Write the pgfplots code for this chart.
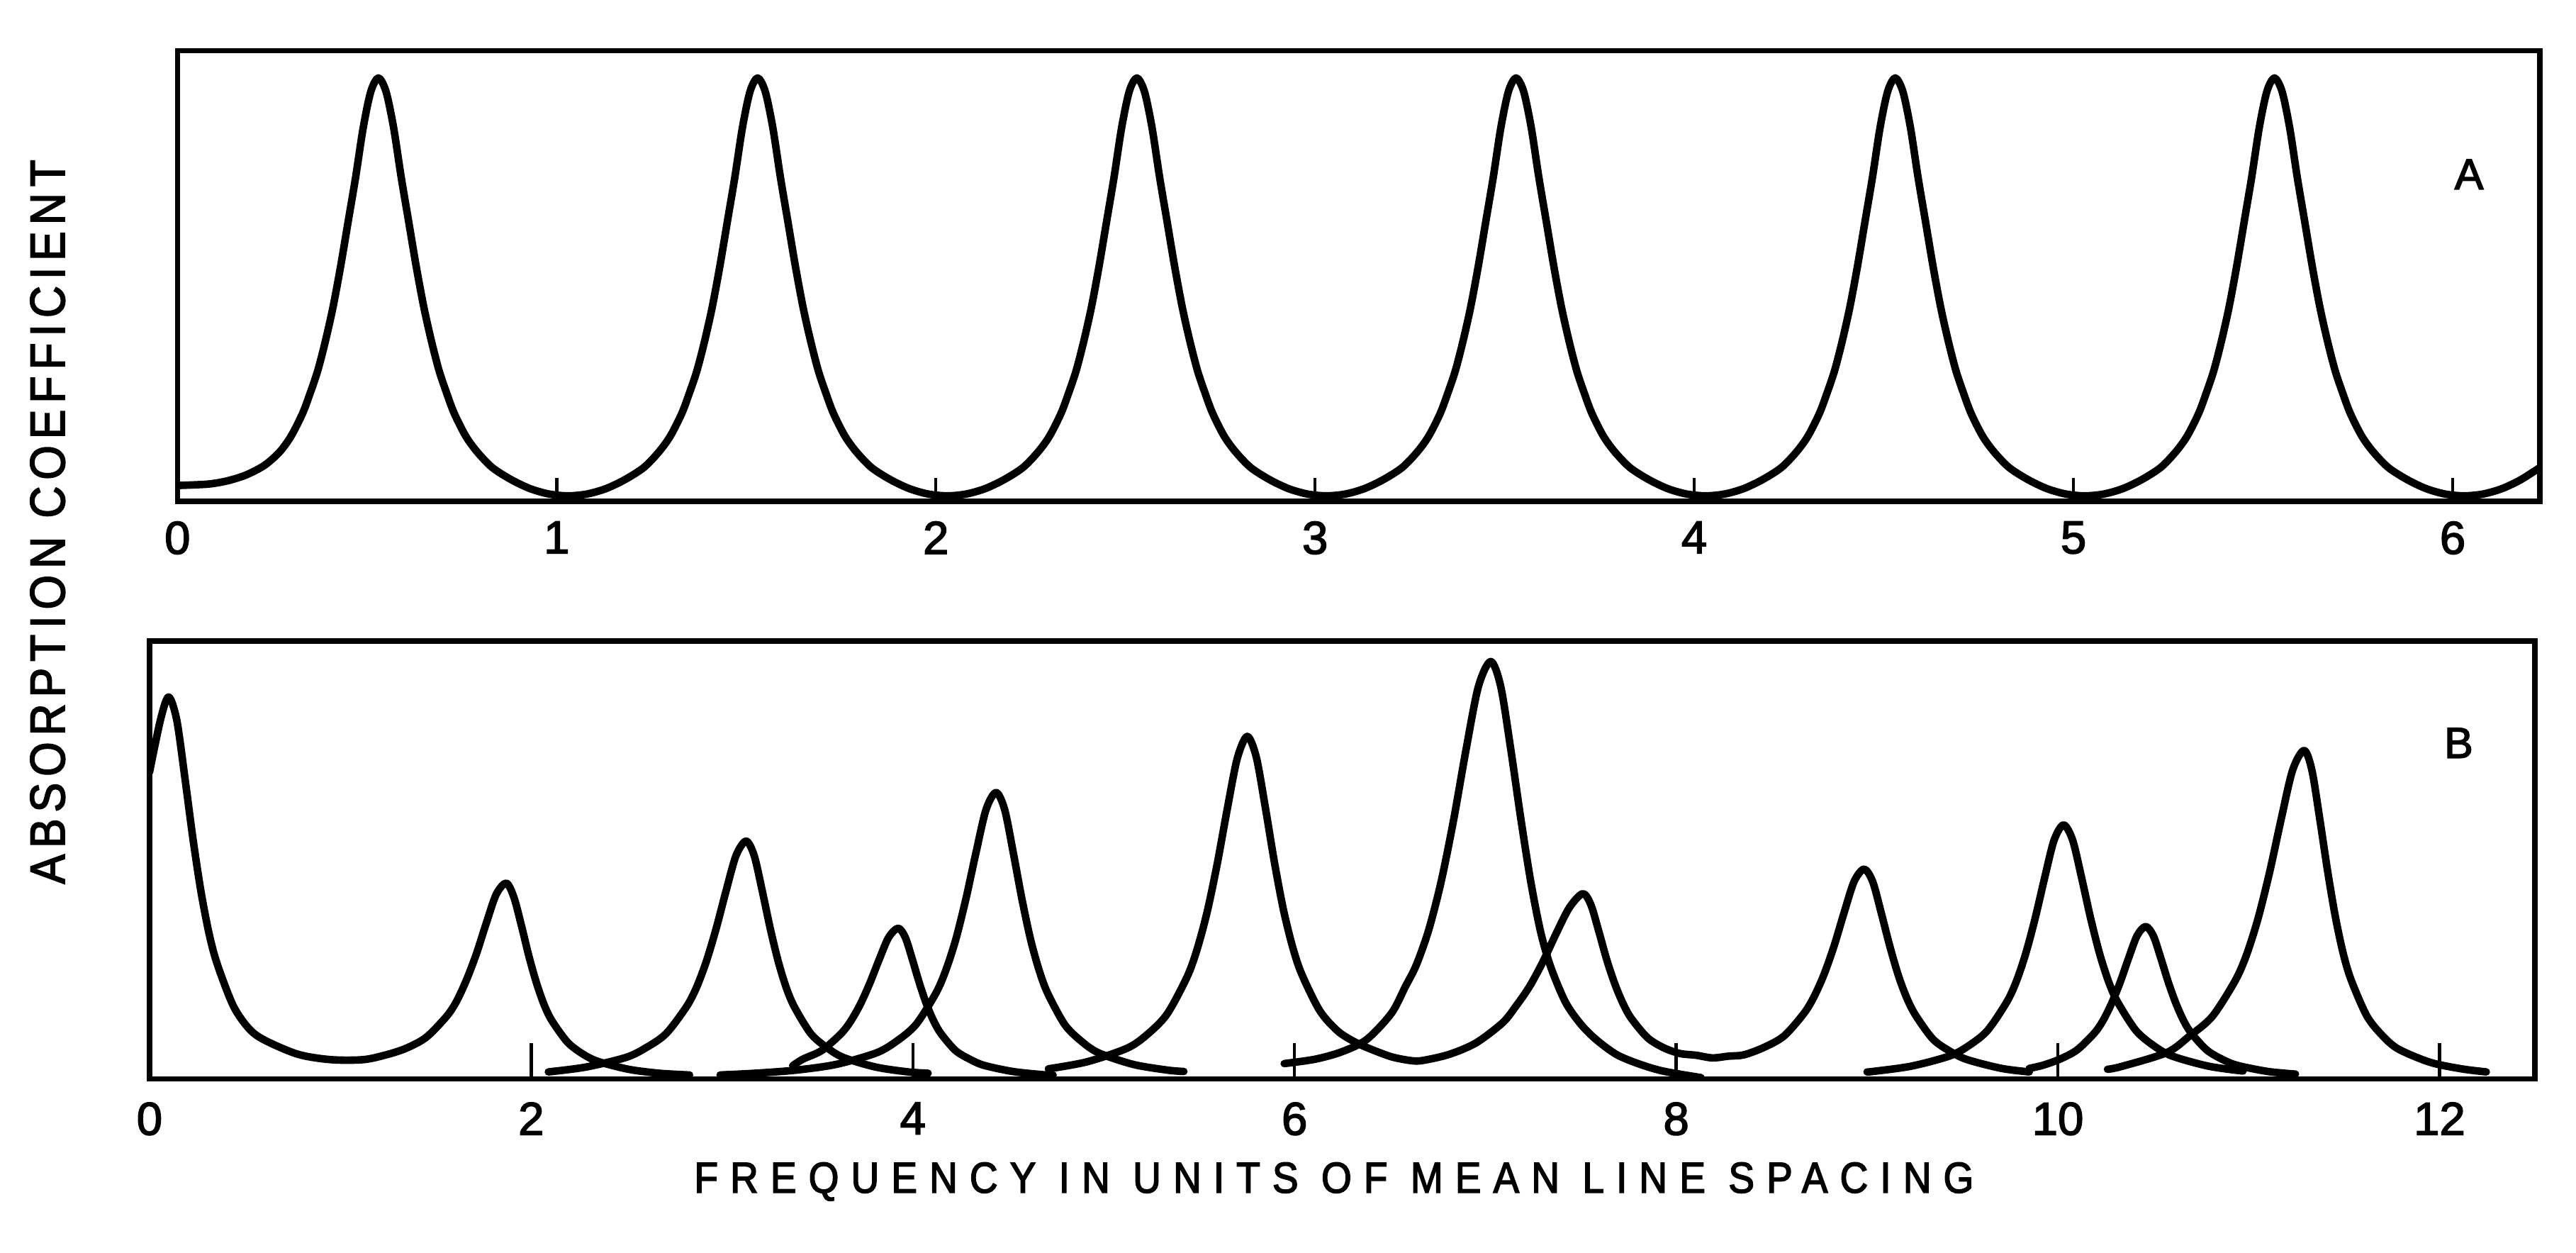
\documentclass[border=0pt]{standalone}
\usepackage{fontspec}
\setmainfont{Liberation Sans}
\newfontfamily\xlabfont[LetterSpace=28, FakeStretch=0.9, FakeBold=2.5]{Liberation Sans}
\newfontfamily\ylabfont[LetterSpace=13, FakeStretch=0.9, FakeBold=2.5]{Liberation Sans}
\newfontfamily\tickfont[FakeBold=2.5]{Liberation Sans}
\usepackage{pgfplots}
\pgfplotsset{compat=1.18}

\pgfplotsset{
  panel/.style={
    scale only axis,
    ymin=0, ymax=1,
    ytick=\empty,
    axis line style={line width=1.8pt},
    tick align=inside,
    xtick pos=left,
    major tick style={line width=1.1pt, black},
    xticklabel style={font=\tickfont\fontsize{16}{17}\selectfont, anchor=north, inner sep=0pt},
    /pgf/number format/assume math mode=true,
  },
  line/.style={black, line width=2.6pt, smooth, tension=0.5, no markers,
    line cap=round, line join=round},
}

\begin{document}
\begin{tikzpicture}
\path (0,0) rectangle (313.6mm,152.4mm);

% A: regular (Elsasser) array of equally spaced, equally strong lines
\begin{axis}[panel, at={(21.6mm,91.4mm)}, anchor=south west,
  width=287.6mm, height=54.8mm,
  xmin=0, xmax=6.23,
  xtick={0,1,2,3,4,5,6}, xticklabels={0,1,2,3,4,5,6},
  major tick length=2.8mm,
  xticklabel style={yshift=-2.4mm}]
\addplot[line] coordinates {
(0.00,0.035)(0.08,0.038)(0.13,0.045)(0.18,0.058)(0.23,0.08)(0.27,0.11)(0.30,0.145)(0.33,0.195)(0.35,0.24)(0.37,0.29)(0.39,0.355)(0.41,0.43)(0.43,0.52)(0.45,0.62)(0.47,0.72)(0.49,0.83)(0.51,0.91)(0.53,0.94)
(0.55,0.91)(0.57,0.83)(0.59,0.72)(0.61,0.62)(0.63,0.52)(0.65,0.43)(0.67,0.355)(0.69,0.29)(0.71,0.24)(0.73,0.195)(0.76,0.145)(0.79,0.11)(0.83,0.075)(0.88,0.048)(0.93,0.028)(0.98,0.016)(1.03,0.012)
(1.08,0.016)(1.13,0.028)(1.18,0.048)(1.23,0.075)(1.27,0.11)(1.30,0.145)(1.33,0.195)(1.35,0.24)(1.37,0.29)(1.39,0.355)(1.41,0.43)(1.43,0.52)(1.45,0.62)(1.47,0.72)(1.49,0.83)(1.51,0.91)(1.53,0.94)
(1.55,0.91)(1.57,0.83)(1.59,0.72)(1.61,0.62)(1.63,0.52)(1.65,0.43)(1.67,0.355)(1.69,0.29)(1.71,0.24)(1.73,0.195)(1.76,0.145)(1.79,0.11)(1.83,0.075)(1.88,0.048)(1.93,0.028)(1.98,0.016)(2.03,0.012)
(2.08,0.016)(2.13,0.028)(2.18,0.048)(2.23,0.075)(2.27,0.11)(2.30,0.145)(2.33,0.195)(2.35,0.24)(2.37,0.29)(2.39,0.355)(2.41,0.43)(2.43,0.52)(2.45,0.62)(2.47,0.72)(2.49,0.83)(2.51,0.91)(2.53,0.94)
(2.55,0.91)(2.57,0.83)(2.59,0.72)(2.61,0.62)(2.63,0.52)(2.65,0.43)(2.67,0.355)(2.69,0.29)(2.71,0.24)(2.73,0.195)(2.76,0.145)(2.79,0.11)(2.83,0.075)(2.88,0.048)(2.93,0.028)(2.98,0.016)(3.03,0.012)
(3.08,0.016)(3.13,0.028)(3.18,0.048)(3.23,0.075)(3.27,0.11)(3.30,0.145)(3.33,0.195)(3.35,0.24)(3.37,0.29)(3.39,0.355)(3.41,0.43)(3.43,0.52)(3.45,0.62)(3.47,0.72)(3.49,0.83)(3.51,0.91)(3.53,0.94)
(3.55,0.91)(3.57,0.83)(3.59,0.72)(3.61,0.62)(3.63,0.52)(3.65,0.43)(3.67,0.355)(3.69,0.29)(3.71,0.24)(3.73,0.195)(3.76,0.145)(3.79,0.11)(3.83,0.075)(3.88,0.048)(3.93,0.028)(3.98,0.016)(4.03,0.012)
(4.08,0.016)(4.13,0.028)(4.18,0.048)(4.23,0.075)(4.27,0.11)(4.30,0.145)(4.33,0.195)(4.35,0.24)(4.37,0.29)(4.39,0.355)(4.41,0.43)(4.43,0.52)(4.45,0.62)(4.47,0.72)(4.49,0.83)(4.51,0.91)(4.53,0.94)
(4.55,0.91)(4.57,0.83)(4.59,0.72)(4.61,0.62)(4.63,0.52)(4.65,0.43)(4.67,0.355)(4.69,0.29)(4.71,0.24)(4.73,0.195)(4.76,0.145)(4.79,0.11)(4.83,0.075)(4.88,0.048)(4.93,0.028)(4.98,0.016)(5.03,0.012)
(5.08,0.016)(5.13,0.028)(5.18,0.048)(5.23,0.075)(5.27,0.11)(5.30,0.145)(5.33,0.195)(5.35,0.24)(5.37,0.29)(5.39,0.355)(5.41,0.43)(5.43,0.52)(5.45,0.62)(5.47,0.72)(5.49,0.83)(5.51,0.91)(5.53,0.94)
(5.55,0.91)(5.57,0.83)(5.59,0.72)(5.61,0.62)(5.63,0.52)(5.65,0.43)(5.67,0.355)(5.69,0.29)(5.71,0.24)(5.73,0.195)(5.76,0.145)(5.79,0.11)(5.83,0.075)(5.88,0.048)(5.93,0.028)(5.98,0.016)(6.03,0.012)
(6.08,0.016)(6.13,0.028)(6.18,0.048)(6.23,0.075)
};
\node[font=\tickfont\fontsize{15}{16}\selectfont] at (rel axis cs:0.970,0.726) {A};
\end{axis}

% B: random array, lines of unequal strength at irregular positions
\begin{axis}[panel, at={(18.2mm,21.1mm)}, anchor=south west,
  width=290.4mm, height=53.3mm,
  xmin=0, xmax=12.5,
  xtick={0,2,4,6,8,10,12}, xticklabels={0,2,4,6,8,10,12},
  major tick length=4.4mm,
  xticklabel style={yshift=-2.8mm}]
% lines at 0.10 and 1.87 (drawn as one trace)
\addplot[line] coordinates {
(0.00,0.70)(0.0575,0.82)(0.10,0.872)(0.1425,0.82)(0.185,0.689)(0.2275,0.549)(0.27,0.427)(0.3125,0.331)(0.355,0.262)(0.44,0.166)(0.525,0.113)(0.61,0.087)(0.78,0.056)(0.95,0.044)(1.12,0.044)(1.24,0.055)(1.345,0.07)(1.45,0.095)(1.555,0.142)(1.6075,0.176)(1.66,0.225)(1.7125,0.285)(1.765,0.356)(1.8175,0.422)(1.87,0.447)(1.91,0.414)(1.95,0.348)(1.99,0.277)(2.03,0.216)(2.07,0.167)(2.11,0.132)(2.19,0.084)(2.27,0.057)(2.35,0.040)(2.51,0.022)(2.67,0.013)(2.83,0.009)
};
% line at 3.13
\addplot[line] coordinates {
(2.09,0.016)(2.286,0.027)(2.496,0.049)(2.601,0.071)(2.706,0.103)(2.811,0.163)(2.8635,0.206)(2.916,0.266)(2.9685,0.342)(3.021,0.429)(3.0735,0.510)(3.126,0.543)(3.1685,0.510)(3.211,0.429)(3.2535,0.342)(3.296,0.266)(3.3385,0.206)(3.381,0.163)(3.466,0.103)(3.551,0.071)(3.636,0.049)(3.806,0.027)(3.976,0.016)(4.08,0.013)
};
% line at 3.92
\addplot[line] coordinates {
(3.37,0.030)(3.423,0.045)(3.523,0.065)(3.623,0.103)(3.673,0.131)(3.723,0.169)(3.773,0.217)(3.823,0.272)(3.873,0.323)(3.923,0.344)(3.9605,0.323)(3.998,0.272)(4.0355,0.217)(4.073,0.169)(4.1105,0.131)(4.148,0.103)(4.223,0.065)(4.298,0.045)(4.373,0.031)(4.523,0.017)(4.673,0.010)(4.735,0.009)
};
% line at 4.44
\addplot[line] coordinates {
(2.99,0.009)(3.176,0.013)(3.386,0.020)(3.596,0.033)(3.806,0.059)(3.911,0.085)(4.016,0.124)(4.121,0.196)(4.1735,0.249)(4.226,0.320)(4.2785,0.412)(4.331,0.517)(4.3835,0.615)(4.436,0.654)(4.481,0.615)(4.526,0.517)(4.571,0.412)(4.616,0.320)(4.661,0.249)(4.706,0.196)(4.796,0.124)(4.886,0.085)(4.976,0.059)(5.156,0.033)(5.336,0.020)(5.42,0.017)
};
% lines at 5.75, 7.51 and 8.99 (drawn as one trace)
\addplot[line] coordinates {
(4.71,0.023)(4.912,0.039)(5.122,0.070)(5.227,0.101)(5.332,0.148)(5.437,0.233)(5.4895,0.296)(5.542,0.381)(5.5945,0.490)(5.647,0.615)(5.6995,0.731)(5.752,0.782)(5.7995,0.735)(5.847,0.620)(5.8945,0.495)(5.942,0.386)(5.9895,0.302)(6.037,0.240)(6.132,0.156)(6.227,0.109)(6.322,0.083)(6.417,0.065)(6.512,0.050)(6.607,0.042)(6.67,0.042)(6.81,0.056)(6.95,0.082)(7.09,0.128)(7.16,0.166)(7.23,0.210)(7.30,0.266)(7.37,0.331)(7.44,0.391)(7.51,0.423)(7.5525,0.398)(7.595,0.336)(7.6375,0.270)(7.68,0.215)(7.7225,0.171)(7.765,0.138)(7.85,0.094)(7.935,0.071)(8.02,0.058)(8.105,0.054)(8.19,0.048)(8.275,0.052)(8.355,0.055)(8.46,0.072)(8.565,0.098)(8.67,0.150)(8.7225,0.188)(8.775,0.239)(8.8275,0.304)(8.88,0.380)(8.9325,0.451)(8.985,0.479)(9.03,0.450)(9.075,0.378)(9.12,0.302)(9.165,0.235)(9.21,0.183)(9.255,0.145)(9.345,0.091)(9.435,0.063)(9.525,0.044)(9.705,0.024)(9.85,0.016)
};
% line at 7.03
\addplot[line] coordinates {
(5.946,0.035)(6.108,0.045)(6.248,0.062)(6.378,0.09)(6.508,0.15)(6.58,0.21)(6.638,0.26)(6.703,0.34)(6.768,0.45)(6.833,0.59)(6.898,0.75)(6.963,0.895)(7.028,0.953)(7.0805,0.896)(7.133,0.753)(7.1855,0.595)(7.238,0.45)(7.29,0.335)(7.343,0.255)(7.42,0.175)(7.50,0.125)(7.58,0.09)(7.686,0.056)(7.80,0.035)(7.93,0.018)(8.13,0.003)
};
% line at 10.03
\addplot[line] coordinates {
(9.00,0.016)(9.03,0.017)(9.23,0.029)(9.43,0.052)(9.53,0.075)(9.63,0.110)(9.73,0.174)(9.78,0.220)(9.83,0.284)(9.88,0.365)(9.93,0.458)(9.98,0.545)(10.03,0.58)(10.0775,0.545)(10.125,0.458)(10.1725,0.365)(10.22,0.284)(10.2675,0.220)(10.315,0.174)(10.41,0.110)(10.505,0.075)(10.60,0.052)(10.79,0.029)(10.97,0.018)
};
% line at 10.46
\addplot[line] coordinates {
(9.85,0.024)(9.92,0.031)(10.01,0.045)(10.10,0.066)(10.19,0.104)(10.235,0.132)(10.28,0.171)(10.325,0.219)(10.37,0.275)(10.415,0.327)(10.46,0.348)(10.50,0.327)(10.54,0.275)(10.58,0.219)(10.62,0.171)(10.66,0.132)(10.70,0.104)(10.78,0.066)(10.86,0.045)(10.94,0.031)(11.10,0.017)(11.245,0.011)
};
% line at 11.29
\addplot[line] coordinates {
(10.26,0.022)(10.33,0.028)(10.57,0.060)(10.69,0.098)(10.81,0.143)(10.93,0.225)(10.99,0.285)(11.05,0.368)(11.11,0.473)(11.17,0.593)(11.23,0.705)(11.29,0.75)(11.331,0.705)(11.3725,0.593)(11.414,0.473)(11.455,0.368)(11.496,0.285)(11.5375,0.225)(11.62,0.143)(11.7025,0.098)(11.785,0.068)(11.95,0.038)(12.115,0.023)(12.245,0.016)
};
\node[font=\tickfont\fontsize{15}{16}\selectfont] at (rel axis cs:0.968,0.767) {B};
\end{axis}

\node[rotate=90, font=\ylabfont\fontsize{17}{18}\selectfont] at (5.8mm,88.9mm) {ABSORPTION COEFFICIENT};
\node[font=\xlabfont\fontsize{15}{16}\selectfont] at (162.4mm,8.6mm) {FREQUENCY IN UNITS OF MEAN LINE SPACING};
\end{tikzpicture}
\end{document}
